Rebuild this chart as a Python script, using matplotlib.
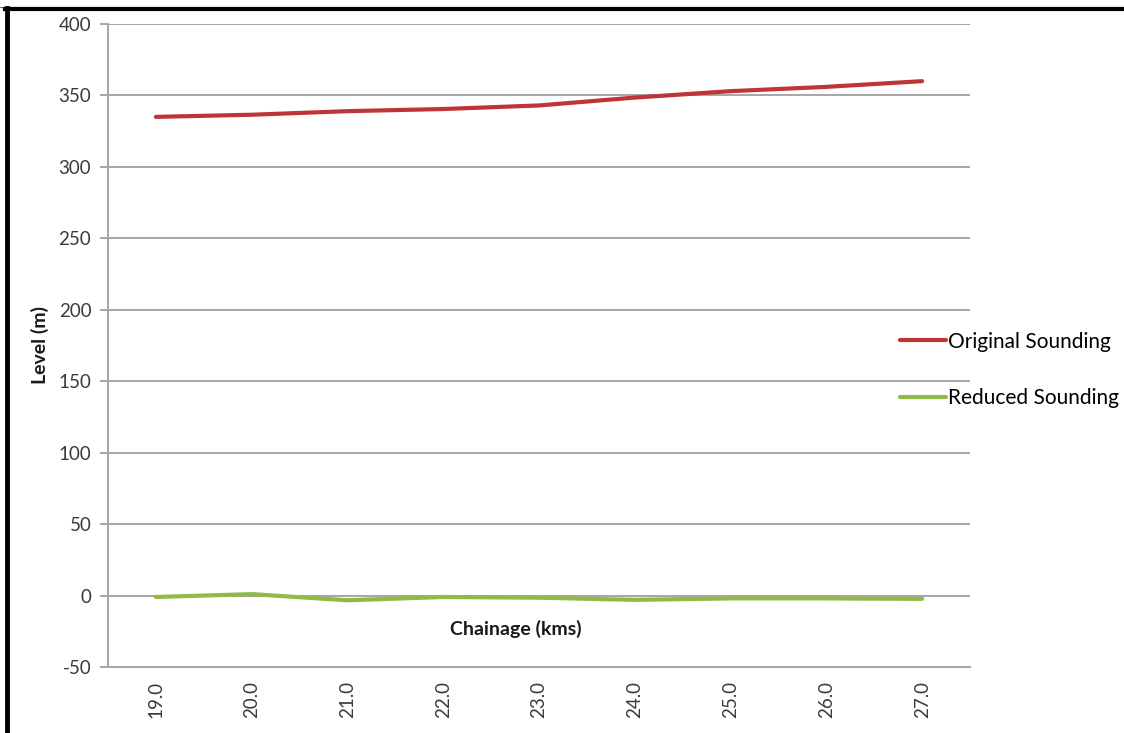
import matplotlib
matplotlib.use("Agg")
import matplotlib.pyplot as plt
from matplotlib.lines import Line2D

# Chainage categories (km) and sounding levels (m)
chainage = ["19.0", "20.0", "21.0", "22.0", "23.0", "24.0", "25.0", "26.0", "27.0"]
original_sounding = [335, 336.5, 339, 340.5, 343, 348.5, 353, 356, 360]
reduced_sounding = [-1, 1, -3.3, -1, -1.5, -3, -2, -2, -2.3]
y_ticks = [-50, 0, 50, 100, 150, 200, 250, 300, 350, 400]

plt.rcParams['font.family'] = ['Lato', 'DejaVu Sans']
plt.rcParams['axes.unicode_minus'] = False

fig = plt.figure(figsize=(11.24, 7.33), dpi=100)
ax = fig.add_axes([108 / 1124, 1 - 667 / 733, 862 / 1124, 643 / 733])

x = list(range(len(chainage)))
ax.plot(x, original_sounding, color="#bf3434", lw=3.0, solid_capstyle="round",
        solid_joinstyle="round", label="Original Sounding", zorder=3)
ax.plot(x, reduced_sounding, color="#8dbb45", lw=3.0, solid_capstyle="round",
        solid_joinstyle="round", label="Reduced Sounding", zorder=3)

ax.set_xlim(-0.5, len(chainage) - 0.5)
ax.set_ylim(-50, 400)
ax.set_yticks(y_ticks)
ax.set_xticks(x)
ax.set_xticklabels(chainage, rotation=90)

grid_col = "#a6a6a6"
ax.yaxis.grid(True, color=grid_col, lw=1.4)
ax.set_axisbelow(True)
for s in ["top", "right"]:
    ax.spines[s].set_visible(False)
for s in ["left", "bottom"]:
    ax.spines[s].set_color(grid_col)
    ax.spines[s].set_linewidth(1.4)

ax.tick_params(axis="y", length=6, width=1.4, color=grid_col, labelsize=13.5,
               labelcolor="#3a3a3a", pad=6)
ax.tick_params(axis="x", length=0, labelsize=13.5, labelcolor="#3a3a3a", pad=10)

ax.text(0.473, 0.059, "Chainage (kms)", transform=ax.transAxes, ha="center",
        va="center", fontsize=14, fontweight="bold", color="#1a1a1a")
fig.text(40 / 1124, 1 - 345 / 733, "Level (m)", rotation=90, ha="center",
         va="center", fontsize=14, fontweight="bold", color="#1a1a1a")

ax.legend(loc="center left", bbox_to_anchor=((900 - 108) / 862, 0.462),
          frameon=False, fontsize=15, handlelength=2.2, handletextpad=0.1,
          labelspacing=1.75, borderpad=0, borderaxespad=0)

# Outer frame lines
fig.add_artist(Line2D([0, 1], [1 - 7 / 733, 1 - 7 / 733], color="#777777",
                      lw=0.8, transform=fig.transFigure))
fig.add_artist(Line2D([5 / 1124, 1], [1 - 9 / 733, 1 - 9 / 733], color="black",
                      lw=3.0, transform=fig.transFigure))
fig.add_artist(Line2D([7 / 1124, 7 / 1124], [0, 1 - 8 / 733], color="black",
                      lw=3.5, transform=fig.transFigure))

fig.savefig("out.png", dpi=100, facecolor="white")
